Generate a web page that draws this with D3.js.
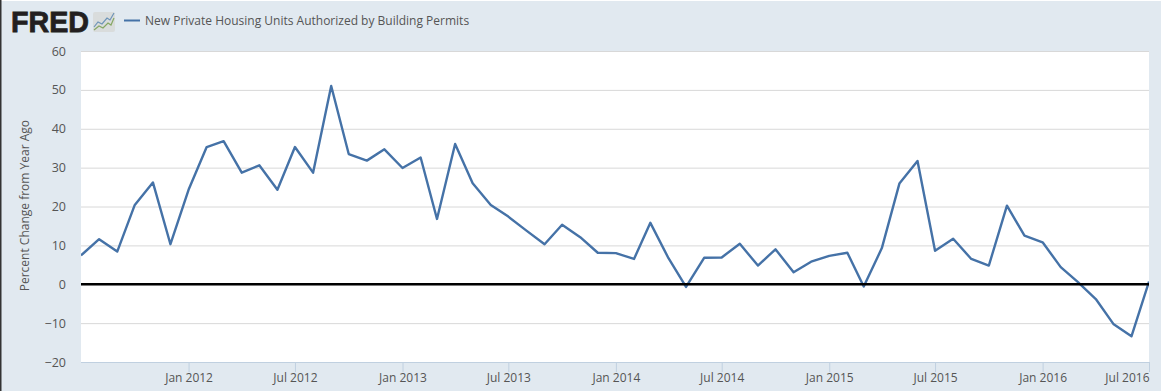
<!DOCTYPE html>
<html>
<head>
<meta charset="utf-8">
<script src="https://cdn.jsdelivr.net/npm/d3@7"></script>
<style>
  html, body { margin: 0; padding: 0; background: #fff; }
  svg { display: block; font-family: "Open Sans", sans-serif; }
  text { fill: #555; }
</style>
</head>
<body>
<div id="chart"></div>
<script>
const seriesName = 'New Private Housing Units Authorized by Building Permits';
const yTitle = 'Percent Change from Year Ago';
const startMonth = new Date(2011, 6, 1);
const endMonth = new Date(2016, 6, 1);
const yDomain = [-20, 60];
const yTicks = [-20, -10, 0, 10, 20, 30, 40, 50, 60];
const xTicks = ['2012-01', '2012-07', '2013-01', '2013-07', '2014-01', '2014-07',
  '2015-01', '2015-07', '2016-01', '2016-07'];

// monthly from Jul 2011 to Jul 2016
const values = [
  7.4, 11.6, 8.4, 20.4, 26.2, 10.3,
  24.3, 35.3, 36.8, 28.7, 30.6, 24.3, 35.3, 28.7, 51.0, 33.5, 31.8, 34.7,
  29.9, 32.6, 16.8, 36.1, 26.0, 20.4, 17.4, 13.8, 10.3, 15.3, 12.1, 8.1,
  8.0, 6.5, 15.8, 6.7, -0.7, 6.8, 6.9, 10.4, 4.8, 9.0, 3.1, 5.8,
  7.3, 8.1, -0.6, 9.3, 25.9, 31.7, 8.6, 11.7, 6.5, 4.8, 20.2, 12.5,
  10.8, 4.4, 0.6, -3.8, -10.2, -13.4, 0.7
];

const width = 1161;
const height = 391;
const margin = { top: 51, right: 12, bottom: 29, left: 81 };

const parseMonth = d3.timeParse('%Y-%m');
const formatMonth = d3.timeFormat('%b %Y');
const months = d3.timeMonth.range(startMonth, d3.timeMonth.offset(endMonth, 1));
const data = months.map((date, i) => ({ date, value: values[i] }));

const svg = d3.select('#chart').append('svg')
  .attr('width', width)
  .attr('height', height);

const xScale = d3.scaleTime()
  .domain([startMonth, endMonth])
  .range([margin.left, width - margin.right]);

const yScale = d3.scaleLinear()
  .domain(yDomain)
  .range([height - margin.bottom, margin.top]);

// page background, with the dark edge on the left and the white row on top
svg.append('rect').attr('width', width).attr('height', height).attr('fill', '#e1e9f0');
svg.append('rect').attr('width', width).attr('height', 1).attr('fill', '#fff');
svg.append('rect').attr('width', 1.5).attr('height', height).attr('fill', '#333');

// plot area
svg.append('rect')
  .attr('x', margin.left)
  .attr('y', margin.top)
  .attr('width', width - margin.left - margin.right)
  .attr('height', height - margin.top - margin.bottom)
  .attr('fill', '#fff');

// gridlines and y labels
const yAxis = d3.axisLeft(yScale)
  .tickValues(yTicks)
  .tickSize(-(width - margin.left - margin.right))
  .tickPadding(15);

const yG = svg.append('g')
  .attr('transform', `translate(${margin.left}, 0)`)
  .call(yAxis);
yG.select('.domain').remove();
yG.selectAll('line').attr('stroke', '#d8d8d8').attr('stroke-width', 1);
yG.selectAll('text')
  .attr('font-size', 12.5)
  .attr('font-family', '"Open Sans", sans-serif');

// x axis
const xAxis = d3.axisBottom(xScale)
  .tickValues(xTicks.map(parseMonth))
  .tickFormat(formatMonth)
  .tickSize(10)
  .tickPadding(1);

const xG = svg.append('g')
  .attr('transform', `translate(0, ${height - margin.bottom})`)
  .call(xAxis);
xG.select('.domain').attr('stroke', '#c0d0e0').attr('d', `M${margin.left},0.5H${width - margin.right}`);
xG.selectAll('line').attr('stroke', '#c0d0e0');
xG.selectAll('text')
  .attr('font-size', 12)
  .attr('font-family', '"Open Sans", sans-serif');
// the last label would run off the page, so it ends at its tick
xG.selectAll('.tick')
  .filter((d) => +d === +endMonth)
  .select('text')
  .attr('text-anchor', 'end');

// y title
svg.append('text')
  .attr('transform', `translate(29, ${yScale(0) + 7}) rotate(-90)`)
  .attr('font-size', 12)
  .attr('fill', '#555')
  .text(yTitle);

// the series
const line = d3.line()
  .x((d) => xScale(d.date))
  .y((d) => yScale(d.value));

svg.append('clipPath').attr('id', 'plot-clip').append('rect')
  .attr('x', margin.left)
  .attr('y', margin.top - 5)
  .attr('width', width - margin.left - margin.right)
  .attr('height', height - margin.top - margin.bottom + 10);

svg.append('path')
  .datum(data)
  .attr('clip-path', 'url(#plot-clip)')
  .attr('fill', 'none')
  .attr('stroke', '#4572a7')
  .attr('stroke-width', 2.4)
  .attr('stroke-linejoin', 'round')
  .attr('d', line);

// zero line goes on top
svg.append('line')
  .attr('x1', margin.left)
  .attr('x2', width - margin.right)
  .attr('y1', yScale(0))
  .attr('y2', yScale(0))
  .attr('stroke', '#000')
  .attr('stroke-width', 2.4);

// legend
svg.append('line')
  .attr('x1', 124).attr('x2', 140)
  .attr('y1', 20.5).attr('y2', 20.5)
  .attr('stroke', '#4572a7')
  .attr('stroke-width', 2);
svg.append('text')
  .attr('x', 145)
  .attr('y', 25)
  .attr('font-size', 12)
  .attr('fill', '#444')
  .text(seriesName);

// FRED logo
svg.append('text')
  .attr('x', 11)
  .attr('y', 32)
  .attr('font-family', '"Liberation Sans", sans-serif')
  .attr('font-weight', 700)
  .attr('font-size', 29)
  .attr('textLength', 78)
  .attr('lengthAdjust', 'spacingAndGlyphs')
  .attr('stroke', '#231f20')
  .attr('stroke-width', 0.8)
  .style('fill', '#231f20')
  .text('FRED');

svg.append('rect')
  .attr('x', 93).attr('y', 12)
  .attr('width', 22).attr('height', 20).attr('rx', 2)
  .attr('fill', '#d9dcdc');

const logoLine = d3.line();
const logoBlue = [[94, 27], [98, 22], [102, 24], [107, 18], [110, 20], [114, 13]];
const logoGreen = [[94, 30], [99, 26], [103, 28], [108, 23], [111, 25], [114, 18]];
svg.append('path').attr('d', logoLine(logoBlue))
  .attr('fill', 'none').attr('stroke', '#6d94b8').attr('stroke-width', 1.2);
svg.append('path').attr('d', logoLine(logoGreen))
  .attr('fill', 'none').attr('stroke', '#86a765').attr('stroke-width', 1.2);
</script>
</body>
</html>
